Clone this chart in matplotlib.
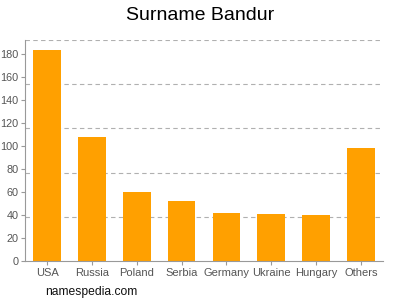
import matplotlib
matplotlib.use('Agg')
import matplotlib.pyplot as plt
import numpy as np

countries = ['USA', 'Russia', 'Poland', 'Serbia', 'Germany', 'Ukraine', 'Hungary', 'Others']
counts = [183, 108, 60, 52, 42, 41, 40, 98]
y_ticks = [0, 20, 40, 60, 80, 100, 120, 140, 160, 180]
y_top = 192

plt.rcParams['font.family'] = ['Liberation Sans', 'DejaVu Sans']

fig = plt.figure(figsize=(4, 3), dpi=100)
ax = fig.add_axes([0.062, 0.13, 0.896, 0.737])

x = np.arange(len(countries))
ax.bar(x, counts, width=0.62, color='#ffa000', zorder=2)

# dashed grid is not on the tick positions, it splits the axis into 5
for g in np.linspace(0, y_top, 6)[1:]:
    ax.axhline(g, color='#b0b0b0', linestyle=(0, (4, 3)), linewidth=0.8, zorder=1)

ax.set_xlim(-0.5, len(countries) - 0.5)
ax.set_ylim(0, y_top)
ax.set_xticks(x)
ax.set_xticklabels(countries)
ax.set_yticks(y_ticks)

for side in ['top', 'right']:
    ax.spines[side].set_visible(False)
for side in ['left', 'bottom']:
    ax.spines[side].set_color('#999999')
    ax.spines[side].set_linewidth(0.8)
ax.tick_params(axis='both', colors='#999999', labelcolor='#555555', labelsize=8, length=3, width=0.8, pad=2)
ax.tick_params(axis='y', labelsize=7.8, pad=1.5)

fig.suptitle('Surname Bandur', fontsize=14, y=0.975)
fig.text(0.112, 0.018, 'namespedia.com', fontsize=8.7, color='#111111')

fig.savefig('out.png', dpi=100)
